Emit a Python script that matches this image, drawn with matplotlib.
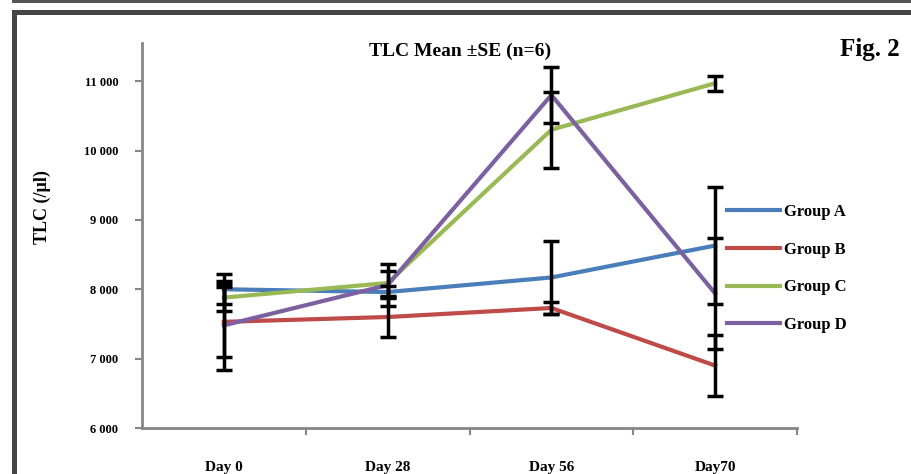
import matplotlib
matplotlib.use("Agg")
import matplotlib.pyplot as plt
from matplotlib.patches import Rectangle
import numpy as np

plt.rcParams['font.family'] = ['Liberation Serif', 'DejaVu Serif']
plt.rcParams['font.weight'] = 'bold'

days = ["Day 0", "Day 28", "Day 56", "Day70"]
groups = ["Group A", "Group B", "Group C", "Group D"]
colors = ["#4A7EBB", "#BE4B48", "#98B954", "#7D60A0"]

group_a = [8000, 7960, 8170, 8630]
group_b = [7530, 7600, 7730, 6900]
group_c = [7880, 8090, 10300, 10970]
group_d = [7480, 8060, 10800, 7940]

se_a = [215, 80, 530, 840]
se_b = [500, 290, 80, 440]
se_c = [190, 180, 550, 110]
se_d = [640, 300, 400, 800]

means = [group_a, group_b, group_c, group_d]
errors = [se_a, se_b, se_c, se_d]

yticks = [6000, 7000, 8000, 9000, 10000, 11000]
ytick_labels = ["6 000", "7 000", "8 000", "9 000", "10 000", "11 000"]

W, H = 911, 474
fig = plt.figure(figsize=(W / 100, H / 100), dpi=100)
ax = fig.add_axes([142 / W, 1 - 428 / H, 655 / W, 385 / H])

x = np.arange(len(days))
for m, c, g in zip(means, colors, groups):
    ax.plot(x, m, color=c, lw=3, label=g, zorder=2)
for m, e in zip(means, errors):
    ax.errorbar(x, m, yerr=e, fmt='none', ecolor='black', elinewidth=2.5,
                capsize=6, capthick=2.5, zorder=3)

ax.set_xlim(-0.5, 3.5)
ax.set_ylim(6000, 11550)
ax.set_yticks(yticks)
ax.set_yticklabels(ytick_labels, fontsize=9, fontweight='bold')
ax.set_xticks(x)
ax.set_xticklabels(days, fontsize=11, fontweight='bold')
ax.set_xticks([0.5, 1.5, 2.5, 3.5], minor=True)
ax.tick_params(axis='x', which='major', length=0, pad=24)
ax.tick_params(axis='x', which='minor', length=5, width=1.5, color='#868686', direction='out')
ax.tick_params(axis='y', length=5, width=1.5, color='#868686', pad=12)

for s in ['top', 'right']:
    ax.spines[s].set_visible(False)
for s in ['left', 'bottom']:
    ax.spines[s].set_color('#868686')
    ax.spines[s].set_linewidth(2)

ax.legend(loc='upper left', bbox_to_anchor=(727 / W, 1 - 204 / H),
          bbox_transform=fig.transFigure, frameon=False, fontsize=12,
          handlelength=3.2, handletextpad=0.2, labelspacing=1.3,
          borderpad=0, borderaxespad=0)

fig.text(460 / W, 1 - 56 / H, "TLC Mean ±SE (n=6)", ha='center', va='baseline',
         fontsize=14, fontweight='bold')
fig.text(900 / W, 1 - 56 / H, "Fig. 2", ha='right', va='baseline',
         fontsize=18, fontweight='bold')
fig.text(42 / W, 1 - 207 / H, "TLC (/µl)", ha='center', va='center',
         rotation=90, fontsize=13, fontweight='bold')

# scanned page frame
fig.patches.append(Rectangle((12 / W, 1 - 3 / H), 1, 3 / H, transform=fig.transFigure,
                             color='#555555', lw=0))
fig.patches.append(Rectangle((12 / W, 1 - 15 / H), 1, 5 / H, transform=fig.transFigure,
                             color='#444444', lw=0))
fig.patches.append(Rectangle((12 / W, 0), 5 / W, 1 - 10 / H, transform=fig.transFigure,
                             color='#444444', lw=0))

fig.savefig("out.png", dpi=100)
